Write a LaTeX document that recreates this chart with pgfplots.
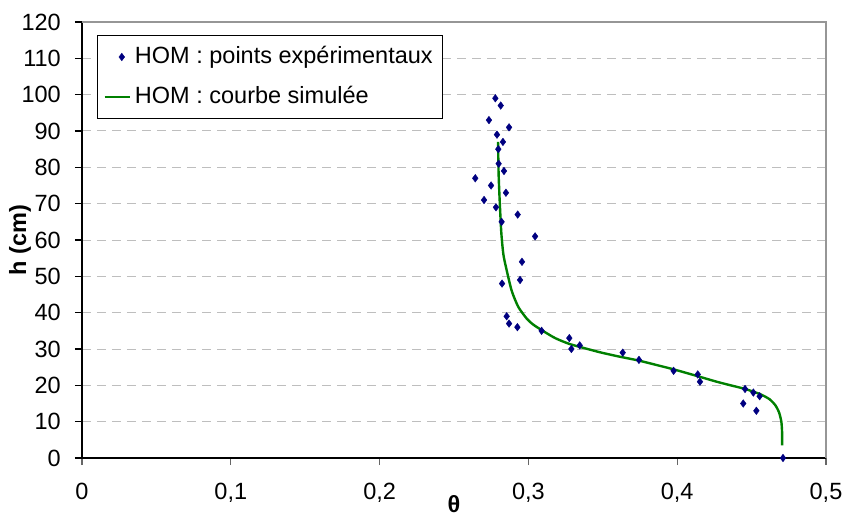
\documentclass[border=0pt]{standalone}
\usepackage{pgfplots}
\pgfplotsset{compat=1.18}
\usepackage{fontspec}
\setmainfont{Liberation Sans}
\definecolor{ptblue}{RGB}{0,0,128}
\definecolor{crvgreen}{RGB}{0,128,0}
\definecolor{gridgray}{RGB}{190,190,190}
\definecolor{bordergray}{RGB}{150,150,150}
\pgfplotsset{shortleg/.style={legend image code/.code={\draw[##1] (0cm,0cm) -- (0.44cm,0cm);}}}
\begin{document}
\fontsize{11.75}{14}\selectfont
\begin{tikzpicture}[font=\fontsize{11.75}{14}\selectfont]
\path[use as bounding box] (-41pt,-28.5pt) rectangle (383pt,229pt);
\begin{axis}[
  scale only axis, width=372pt, height=218pt,
  at={(0pt,0pt)}, anchor=south west,
  xmin=0, xmax=0.5, ymin=0, ymax=120,
  xtick={0,0.1,0.2,0.3,0.4,0.5},
  ytick={0,10,20,30,40,50,60,70,80,90,100,110,120},
  axis x line=bottom, axis y line=left,
  axis line style={-, black, line width=0.6pt},
  tick align=outside, major tick length=3.5pt,
  xtick style={black!60, line width=0.6pt},
  ytick style={black, line width=0.6pt},
  ymajorgrids,
  major grid style={gridgray, line width=0.5pt, dash pattern=on 4.5pt off 3pt},
  /pgf/number format/assume math mode=true,
  /pgf/number format/use comma,
  /pgf/number format/fixed,
  xticklabel style={yshift=-5pt},
  yticklabel style={xshift=-3pt},
  xlabel={\textbf{θ}}, ylabel={\textbf{h (cm)}},
  xlabel style={at={(axis description cs:0.5,-0.1055)}, anchor=center, inner sep=0pt},
  ylabel style={at={(axis description cs:-0.0833,0.5)}, anchor=center},
  legend cell align=left,
  legend style={at={(0.0202,0.970)}, anchor=north west, draw=black, line width=0.5pt,
    font=\fontsize{11.75}{14}\selectfont, row sep=5.5pt, inner xsep=3pt, inner ysep=3.5pt},
  clip=false,
]
\addplot[only marks, mark=diamond*, mark size=1.9pt, color=ptblue,
  mark options={fill=ptblue, line width=0.2pt}] coordinates {
(0.2778,99) (0.2814,97) (0.2735,93) (0.2870,91) (0.2789,89) (0.2829,87)
(0.2798,85) (0.2800,81) (0.2836,79) (0.2643,77) (0.2749,75) (0.2849,73)
(0.2702,71) (0.2782,69) (0.2928,67) (0.2820,65) (0.3045,61) (0.2957,54)
(0.2944,49) (0.2823,48) (0.2854,39) (0.2870,37) (0.2926,36) (0.3089,35)
(0.3275,33) (0.3345,31) (0.3289,30) (0.3634,29) (0.3743,27) (0.3976,24)
(0.4138,23) (0.4153,21) (0.4456,19) (0.4512,18) (0.4554,17) (0.4444,15)
(0.4532,13) (0.4711,0)
};
\addlegendentry{HOM : points expérimentaux}
\addplot[color=crvgreen, line width=1.2pt, smooth, tension=0.4, shortleg] coordinates {
(0.4705,3.5) (0.4705,7) (0.4700,10) (0.4685,12.5) (0.4660,14.5) (0.4620,16.2)
(0.4556,17.6) (0.4456,19.0) (0.4350,20.1) (0.4265,21.0) (0.4131,22.6)
(0.3976,24.4) (0.3880,25.4) (0.3743,26.8) (0.3600,28.0) (0.3481,29.1)
(0.3380,30.2) (0.3275,31.4) (0.3180,33.0) (0.3089,35.2) (0.3030,36.8)
(0.2988,38.4) (0.2932,41.6) (0.2888,46.0) (0.2854,51.7) (0.2832,56.0)
(0.2818,62.0) (0.2808,70.0) (0.2800,78.0) (0.2796,87.0)
};
\addlegendentry{HOM : courbe simulée}
\draw[bordergray, line width=0.6pt] (rel axis cs:0,1) -- (rel axis cs:1,1) -- (rel axis cs:1,0);
\end{axis}
\end{tikzpicture}
\end{document}
